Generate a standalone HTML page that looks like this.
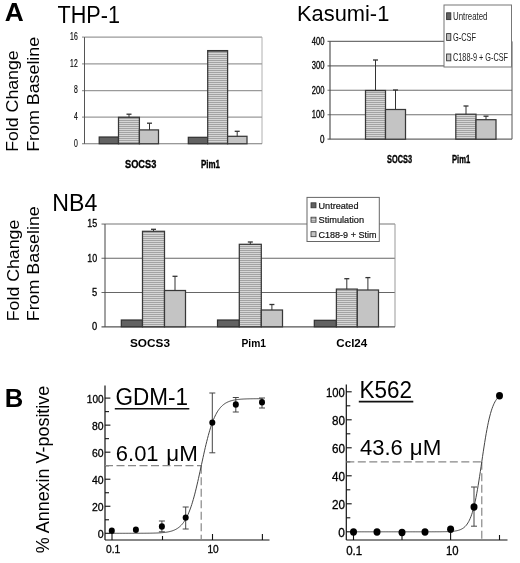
<!DOCTYPE html>
<html><head><meta charset="utf-8"><style>
html,body{margin:0;padding:0;background:#fff;}
svg{display:block;font-family:"Liberation Sans", sans-serif;filter:grayscale(1) blur(0.35px);}
</style></head><body>
<svg width="520" height="563" viewBox="0 0 520 563">
<defs>
<pattern id="stripe" patternUnits="userSpaceOnUse" width="4" height="2">
<rect width="4" height="2" fill="#d6d6d6"/>
<rect y="0" width="4" height="0.8" fill="#969696"/>
</pattern>
</defs>
<rect width="520" height="563" fill="#fff"/>
<text x="4.8" y="20.9" font-size="26.5" font-weight="bold" fill="#000" text-anchor="start" textLength="19" lengthAdjust="spacingAndGlyphs" >A</text>
<text x="57.5" y="23.1" font-size="23.5" font-weight="normal" fill="#000" text-anchor="start" textLength="62.5" lengthAdjust="spacingAndGlyphs" >THP-1</text>
<text x="18.4" y="151.8" font-size="17.3" font-weight="normal" fill="#000" text-anchor="start" textLength="101.5" lengthAdjust="spacingAndGlyphs" transform="rotate(-90 18.4 151.8)" >Fold Change</text>
<text x="18.6" y="321.2" font-size="17.3" font-weight="normal" fill="#000" text-anchor="start" textLength="101.5" lengthAdjust="spacingAndGlyphs" transform="rotate(-90 18.6 321.2)" >Fold Change</text>
<text x="38.9" y="151.8" font-size="17.3" font-weight="normal" fill="#000" text-anchor="start" textLength="115" lengthAdjust="spacingAndGlyphs" transform="rotate(-90 38.9 151.8)" >From Baseline</text>
<text x="38.9" y="321.2" font-size="17.3" font-weight="normal" fill="#000" text-anchor="start" textLength="115" lengthAdjust="spacingAndGlyphs" transform="rotate(-90 38.9 321.2)" >From Baseline</text>
<line x1="84.5" y1="37.1" x2="262" y2="37.1" stroke="#9a9a9a" stroke-width="1.2" />
<line x1="262" y1="37.1" x2="262" y2="143.75" stroke="#b0b0b0" stroke-width="1" />
<line x1="82" y1="63.94999999999999" x2="262" y2="63.94999999999999" stroke="#9a9a9a" stroke-width="1.2" />
<line x1="82" y1="90.55" x2="262" y2="90.55" stroke="#9a9a9a" stroke-width="1.2" />
<line x1="82" y1="117.15" x2="262" y2="117.15" stroke="#9a9a9a" stroke-width="1.2" />
<line x1="82" y1="37.1" x2="84.5" y2="37.1" stroke="#9a9a9a" stroke-width="1.2" />
<line x1="82" y1="143.75" x2="262" y2="143.75" stroke="#777" stroke-width="1.2" />
<line x1="84.5" y1="37.1" x2="84.5" y2="143.75" stroke="#555" stroke-width="1" />
<text x="77.7" y="40.14999999999999" font-size="10.3" font-weight="normal" fill="#000" text-anchor="end" textLength="7.6" lengthAdjust="spacingAndGlyphs" stroke="#000" stroke-width="0.15">16</text>
<text x="77.7" y="66.74999999999999" font-size="10.3" font-weight="normal" fill="#000" text-anchor="end" textLength="7.6" lengthAdjust="spacingAndGlyphs" stroke="#000" stroke-width="0.15">12</text>
<text x="77.7" y="93.35" font-size="10.3" font-weight="normal" fill="#000" text-anchor="end" textLength="3.8" lengthAdjust="spacingAndGlyphs" stroke="#000" stroke-width="0.15">8</text>
<text x="77.7" y="119.95" font-size="10.3" font-weight="normal" fill="#000" text-anchor="end" textLength="3.8" lengthAdjust="spacingAndGlyphs" stroke="#000" stroke-width="0.15">4</text>
<text x="77.7" y="146.55" font-size="10.3" font-weight="normal" fill="#000" text-anchor="end" textLength="3.8" lengthAdjust="spacingAndGlyphs" stroke="#000" stroke-width="0.15">0</text>
<rect x="99.2" y="137.0" width="19.299999999999997" height="6.75" fill="#626262" stroke="#303030" stroke-width="1.2"/>
<rect x="118.5" y="117.3" width="20.900000000000006" height="26.450000000000003" fill="url(#stripe)" stroke="#383838" stroke-width="1.25"/>
<line x1="129" y1="117.3" x2="129" y2="114.2" stroke="#333" stroke-width="1" />
<line x1="126.5" y1="114.2" x2="131.5" y2="114.2" stroke="#333" stroke-width="1.3" />
<rect x="139.4" y="129.9" width="19.099999999999994" height="13.849999999999994" fill="#c4c4c4" stroke="#383838" stroke-width="1.25"/>
<line x1="149.5" y1="129.9" x2="149.5" y2="123.2" stroke="#333" stroke-width="1" />
<line x1="147.0" y1="123.2" x2="152.0" y2="123.2" stroke="#333" stroke-width="1.3" />
<rect x="188.3" y="137.3" width="19.399999999999977" height="6.449999999999989" fill="#626262" stroke="#303030" stroke-width="1.2"/>
<rect x="207.7" y="50.6" width="19.900000000000006" height="93.15" fill="url(#stripe)" stroke="#383838" stroke-width="1.25"/>
<line x1="207.7" y1="50.8" x2="227.6" y2="50.8" stroke="#333" stroke-width="1.6" />
<rect x="227.6" y="136.3" width="19.400000000000006" height="7.449999999999989" fill="#c4c4c4" stroke="#383838" stroke-width="1.25"/>
<line x1="237.2" y1="136.3" x2="237.2" y2="131.3" stroke="#333" stroke-width="1" />
<line x1="234.7" y1="131.3" x2="239.7" y2="131.3" stroke="#333" stroke-width="1.3" />
<text x="125" y="167.5" font-size="10.5" font-weight="bold" fill="#000" text-anchor="start" textLength="31.3" lengthAdjust="spacingAndGlyphs" stroke="#000" stroke-width="0.35">SOCS3</text>
<text x="201" y="167.5" font-size="10.5" font-weight="bold" fill="#000" text-anchor="start" textLength="19" lengthAdjust="spacingAndGlyphs" stroke="#000" stroke-width="0.35">Pim1</text>
<text x="297" y="21.4" font-size="22" font-weight="normal" fill="#000" text-anchor="start" textLength="92.3" lengthAdjust="spacingAndGlyphs" >Kasumi-1</text>
<line x1="327.5" y1="41.39999999999999" x2="512" y2="41.39999999999999" stroke="#707070" stroke-width="1.1" />
<line x1="327.5" y1="65.85" x2="512" y2="65.85" stroke="#707070" stroke-width="1.1" />
<line x1="327.5" y1="90.29999999999998" x2="512" y2="90.29999999999998" stroke="#707070" stroke-width="1.1" />
<line x1="327.5" y1="114.74999999999999" x2="512" y2="114.74999999999999" stroke="#707070" stroke-width="1.1" />
<line x1="512" y1="41.39999999999999" x2="512" y2="139.2" stroke="#555" stroke-width="1" />
<line x1="327.5" y1="139.2" x2="512" y2="139.2" stroke="#666" stroke-width="1.2" />
<line x1="330" y1="41.39999999999999" x2="330" y2="139.2" stroke="#444" stroke-width="1.1" />
<text x="324.5" y="44.99999999999999" font-size="10.3" font-weight="normal" fill="#000" text-anchor="end" textLength="12.7" lengthAdjust="spacingAndGlyphs" stroke="#000" stroke-width="0.3">400</text>
<text x="324.5" y="69.44999999999999" font-size="10.3" font-weight="normal" fill="#000" text-anchor="end" textLength="12.7" lengthAdjust="spacingAndGlyphs" stroke="#000" stroke-width="0.3">300</text>
<text x="324.5" y="93.89999999999998" font-size="10.3" font-weight="normal" fill="#000" text-anchor="end" textLength="12.7" lengthAdjust="spacingAndGlyphs" stroke="#000" stroke-width="0.3">200</text>
<text x="324.5" y="118.34999999999998" font-size="10.3" font-weight="normal" fill="#000" text-anchor="end" textLength="12.7" lengthAdjust="spacingAndGlyphs" stroke="#000" stroke-width="0.3">100</text>
<text x="324.5" y="142.79999999999998" font-size="10.3" font-weight="normal" fill="#000" text-anchor="end" textLength="4.5" lengthAdjust="spacingAndGlyphs" stroke="#000" stroke-width="0.3">0</text>
<rect x="365.5" y="90.5" width="20.0" height="48.69999999999999" fill="url(#stripe)" stroke="#383838" stroke-width="1.25"/>
<line x1="375.5" y1="90.5" x2="375.5" y2="60" stroke="#333" stroke-width="1" />
<line x1="373.0" y1="60" x2="378.0" y2="60" stroke="#333" stroke-width="1.3" />
<rect x="385.5" y="109.5" width="20.0" height="29.69999999999999" fill="#c4c4c4" stroke="#383838" stroke-width="1.25"/>
<line x1="395.5" y1="109.5" x2="395.5" y2="90" stroke="#333" stroke-width="1" />
<line x1="393.0" y1="90" x2="398.0" y2="90" stroke="#333" stroke-width="1.3" />
<rect x="455.8" y="114.2" width="20.19999999999999" height="24.999999999999986" fill="url(#stripe)" stroke="#383838" stroke-width="1.25"/>
<line x1="466" y1="114.2" x2="466" y2="106" stroke="#333" stroke-width="1" />
<line x1="463.5" y1="106" x2="468.5" y2="106" stroke="#333" stroke-width="1.3" />
<rect x="476" y="119.7" width="20" height="19.499999999999986" fill="#c4c4c4" stroke="#383838" stroke-width="1.25"/>
<line x1="486" y1="119.7" x2="486" y2="116.2" stroke="#333" stroke-width="1" />
<line x1="483.5" y1="116.2" x2="488.5" y2="116.2" stroke="#333" stroke-width="1.3" />
<text x="387" y="162.5" font-size="10.5" font-weight="bold" fill="#000" text-anchor="start" textLength="25" lengthAdjust="spacingAndGlyphs" stroke="#000" stroke-width="0.35">SOCS3</text>
<text x="452" y="162.5" font-size="10.5" font-weight="bold" fill="#000" text-anchor="start" textLength="18.2" lengthAdjust="spacingAndGlyphs" stroke="#000" stroke-width="0.35">Pim1</text>
<rect x="444" y="5" width="67.5" height="62" fill="#fff" stroke="#777" stroke-width="1"/>
<rect x="446.6" y="12.799999999999999" width="4.2" height="6.8" fill="#626262" stroke="#333" stroke-width="0.9"/>
<text x="453" y="19.8" font-size="10.5" font-weight="normal" fill="#222" text-anchor="start" textLength="34.5" lengthAdjust="spacingAndGlyphs" >Untreated</text>
<rect x="446.6" y="33.6" width="4.2" height="6.8" fill="#bcbcbc" stroke="#333" stroke-width="0.9"/>
<text x="453" y="40.5" font-size="10.5" font-weight="normal" fill="#222" text-anchor="start" textLength="23" lengthAdjust="spacingAndGlyphs" >G-CSF</text>
<rect x="446.6" y="54.0" width="4.2" height="6.8" fill="#c4c4c4" stroke="#333" stroke-width="0.9"/>
<text x="453" y="60.5" font-size="10.5" font-weight="normal" fill="#222" text-anchor="start" textLength="55" lengthAdjust="spacingAndGlyphs" >C188-9 + G-CSF</text>
<text x="52.3" y="210.9" font-size="23.5" font-weight="normal" fill="#000" text-anchor="start" textLength="45" lengthAdjust="spacingAndGlyphs" >NB4</text>
<line x1="105" y1="224.05" x2="395" y2="224.05" stroke="#777" stroke-width="1.1" />
<line x1="101.5" y1="258.3" x2="395" y2="258.3" stroke="#666" stroke-width="1.1" />
<line x1="101.5" y1="292.55" x2="395" y2="292.55" stroke="#666" stroke-width="1.1" />
<line x1="101.5" y1="224.05" x2="105" y2="224.05" stroke="#777" stroke-width="1.1" />
<line x1="395" y1="224.05" x2="395" y2="326.8" stroke="#999" stroke-width="1" />
<line x1="101.5" y1="326.8" x2="395" y2="326.8" stroke="#555" stroke-width="1.2" />
<line x1="105" y1="224.05" x2="105" y2="326.8" stroke="#444" stroke-width="1" />
<text x="97.2" y="227.45000000000002" font-size="10.5" font-weight="normal" fill="#000" text-anchor="end" textLength="9.9" lengthAdjust="spacingAndGlyphs" stroke="#000" stroke-width="0.3">15</text>
<text x="97.2" y="261.7" font-size="10.5" font-weight="normal" fill="#000" text-anchor="end" textLength="9.9" lengthAdjust="spacingAndGlyphs" stroke="#000" stroke-width="0.3">10</text>
<text x="97.2" y="295.95" font-size="10.5" font-weight="normal" fill="#000" text-anchor="end" textLength="5.2" lengthAdjust="spacingAndGlyphs" stroke="#000" stroke-width="0.3">5</text>
<text x="97.2" y="330.2" font-size="10.5" font-weight="normal" fill="#000" text-anchor="end" textLength="5.2" lengthAdjust="spacingAndGlyphs" stroke="#000" stroke-width="0.3">0</text>
<rect x="121.3" y="320" width="21.200000000000003" height="6.800000000000011" fill="#626262" stroke="#303030" stroke-width="1.2"/>
<rect x="142.5" y="231.3" width="22.0" height="95.5" fill="url(#stripe)" stroke="#383838" stroke-width="1.25"/>
<line x1="153.5" y1="231.3" x2="153.5" y2="229.3" stroke="#333" stroke-width="1" />
<line x1="151.0" y1="229.3" x2="156.0" y2="229.3" stroke="#333" stroke-width="1.3" />
<rect x="164.5" y="290.5" width="21.0" height="36.30000000000001" fill="#c4c4c4" stroke="#383838" stroke-width="1.25"/>
<line x1="175" y1="290.5" x2="175" y2="276.3" stroke="#333" stroke-width="1" />
<line x1="172.5" y1="276.3" x2="177.5" y2="276.3" stroke="#333" stroke-width="1.3" />
<rect x="217.5" y="320" width="21.80000000000001" height="6.800000000000011" fill="#626262" stroke="#303030" stroke-width="1.2"/>
<rect x="239.3" y="244.3" width="22.0" height="82.5" fill="url(#stripe)" stroke="#383838" stroke-width="1.25"/>
<line x1="250.3" y1="244.3" x2="250.3" y2="242" stroke="#333" stroke-width="1" />
<line x1="247.8" y1="242" x2="252.8" y2="242" stroke="#333" stroke-width="1.3" />
<rect x="261.3" y="310" width="21.19999999999999" height="16.80000000000001" fill="#c4c4c4" stroke="#383838" stroke-width="1.25"/>
<line x1="271.9" y1="310" x2="271.9" y2="304.5" stroke="#333" stroke-width="1" />
<line x1="269.4" y1="304.5" x2="274.4" y2="304.5" stroke="#333" stroke-width="1.3" />
<rect x="314.3" y="320.3" width="22.099999999999966" height="6.5" fill="#626262" stroke="#303030" stroke-width="1.2"/>
<rect x="336.4" y="289.1" width="20.900000000000034" height="37.69999999999999" fill="url(#stripe)" stroke="#383838" stroke-width="1.25"/>
<line x1="346.8" y1="289.1" x2="346.8" y2="278.7" stroke="#333" stroke-width="1" />
<line x1="344.3" y1="278.7" x2="349.3" y2="278.7" stroke="#333" stroke-width="1.3" />
<rect x="357.3" y="290" width="21.19999999999999" height="36.80000000000001" fill="#c4c4c4" stroke="#383838" stroke-width="1.25"/>
<line x1="367.9" y1="290" x2="367.9" y2="277.6" stroke="#333" stroke-width="1" />
<line x1="365.4" y1="277.6" x2="370.4" y2="277.6" stroke="#333" stroke-width="1.3" />
<text x="130" y="347" font-size="11.5" font-weight="bold" fill="#000" text-anchor="start" textLength="40" lengthAdjust="spacingAndGlyphs" >SOCS3</text>
<text x="241.5" y="347" font-size="11.5" font-weight="bold" fill="#000" text-anchor="start" textLength="24.5" lengthAdjust="spacingAndGlyphs" >Pim1</text>
<text x="336.3" y="347" font-size="11.5" font-weight="bold" fill="#000" text-anchor="start" textLength="31" lengthAdjust="spacingAndGlyphs" >Ccl24</text>
<rect x="307" y="197.4" width="72.3" height="44.1" fill="#fff" stroke="#666" stroke-width="1"/>
<rect x="311" y="202.79999999999998" width="5" height="5" fill="#626262" stroke="#333" stroke-width="0.8"/>
<text x="318.5" y="208.7" font-size="9.6" font-weight="normal" fill="#111" text-anchor="start" textLength="40" lengthAdjust="spacingAndGlyphs" stroke="#111" stroke-width="0.2">Untreated</text>
<rect x="311" y="217.2" width="5" height="5" fill="url(#stripe)" stroke="#333" stroke-width="0.8"/>
<text x="318.5" y="223.1" font-size="9.6" font-weight="normal" fill="#111" text-anchor="start" textLength="45.5" lengthAdjust="spacingAndGlyphs" stroke="#111" stroke-width="0.2">Stimulation</text>
<rect x="311" y="231.7" width="5" height="5" fill="#c4c4c4" stroke="#333" stroke-width="0.8"/>
<text x="318.5" y="237.6" font-size="9.6" font-weight="normal" fill="#111" text-anchor="start" textLength="58" lengthAdjust="spacingAndGlyphs" stroke="#111" stroke-width="0.2">C188-9 + Stim</text>
<text x="4.8" y="406.8" font-size="26.5" font-weight="bold" fill="#000" text-anchor="start" textLength="18.5" lengthAdjust="spacingAndGlyphs" >B</text>
<text x="49.1" y="553.2" font-size="18" font-weight="normal" fill="#000" text-anchor="start" textLength="167.5" lengthAdjust="spacingAndGlyphs" transform="rotate(-90 49.1 553.2)" >% Annexin V-positive</text>
<line x1="105" y1="385.4" x2="105" y2="540" stroke="#111" stroke-width="1.2" />
<line x1="105" y1="540" x2="269.5" y2="540" stroke="#111" stroke-width="1.2" />
<line x1="105" y1="533.3" x2="110.4" y2="533.3" stroke="#111" stroke-width="1.1" />
<line x1="105" y1="519.78" x2="109" y2="519.78" stroke="#111" stroke-width="1.1" />
<line x1="105" y1="506.25999999999993" x2="110.4" y2="506.25999999999993" stroke="#111" stroke-width="1.1" />
<line x1="105" y1="492.73999999999995" x2="109" y2="492.73999999999995" stroke="#111" stroke-width="1.1" />
<line x1="105" y1="479.21999999999997" x2="110.4" y2="479.21999999999997" stroke="#111" stroke-width="1.1" />
<line x1="105" y1="465.69999999999993" x2="109" y2="465.69999999999993" stroke="#111" stroke-width="1.1" />
<line x1="105" y1="452.17999999999995" x2="110.4" y2="452.17999999999995" stroke="#111" stroke-width="1.1" />
<line x1="105" y1="438.65999999999997" x2="109" y2="438.65999999999997" stroke="#111" stroke-width="1.1" />
<line x1="105" y1="425.13999999999993" x2="110.4" y2="425.13999999999993" stroke="#111" stroke-width="1.1" />
<line x1="105" y1="411.61999999999995" x2="109" y2="411.61999999999995" stroke="#111" stroke-width="1.1" />
<line x1="105" y1="398.0999999999999" x2="110.4" y2="398.0999999999999" stroke="#111" stroke-width="1.1" />
<text x="103.6" y="402.4999999999999" font-size="11" font-weight="normal" fill="#000" text-anchor="end" textLength="16.8130081300813" lengthAdjust="spacingAndGlyphs" stroke="#000" stroke-width="0.3">100</text>
<text x="103.6" y="429.5399999999999" font-size="11" font-weight="normal" fill="#000" text-anchor="end" textLength="11.6260162601626" lengthAdjust="spacingAndGlyphs" stroke="#000" stroke-width="0.3">80</text>
<text x="103.6" y="456.5799999999999" font-size="11" font-weight="normal" fill="#000" text-anchor="end" textLength="11.6260162601626" lengthAdjust="spacingAndGlyphs" stroke="#000" stroke-width="0.3">60</text>
<text x="103.6" y="483.61999999999995" font-size="11" font-weight="normal" fill="#000" text-anchor="end" textLength="11.6260162601626" lengthAdjust="spacingAndGlyphs" stroke="#000" stroke-width="0.3">40</text>
<text x="103.6" y="510.6599999999999" font-size="11" font-weight="normal" fill="#000" text-anchor="end" textLength="11.6260162601626" lengthAdjust="spacingAndGlyphs" stroke="#000" stroke-width="0.3">20</text>
<text x="103.6" y="537.6999999999999" font-size="11" font-weight="normal" fill="#000" text-anchor="end" textLength="5.902439024390244" lengthAdjust="spacingAndGlyphs" stroke="#000" stroke-width="0.3">0</text>
<line x1="112" y1="540" x2="112" y2="533" stroke="#111" stroke-width="1.1" />
<line x1="162.5" y1="540" x2="162.5" y2="536" stroke="#111" stroke-width="1.1" />
<line x1="212.5" y1="540" x2="212.5" y2="534" stroke="#111" stroke-width="1.1" />
<line x1="262.4" y1="540" x2="262.4" y2="534" stroke="#111" stroke-width="1.1" />
<text x="106.04552845528455" y="552.8" font-size="11" font-weight="normal" fill="#000" text-anchor="start" textLength="14.308943089430894" lengthAdjust="spacingAndGlyphs" stroke="#000" stroke-width="0.3">0.1</text>
<text x="207.46585365853662" y="552.8" font-size="11" font-weight="normal" fill="#000" text-anchor="start" textLength="11.268292682926829" lengthAdjust="spacingAndGlyphs" stroke="#000" stroke-width="0.3">10</text>
<text x="115.6" y="405.4" font-size="23.5" font-weight="normal" fill="#000" text-anchor="start" textLength="72.5" lengthAdjust="spacingAndGlyphs" >GDM-1</text>
<line x1="114.8" y1="408.79999999999995" x2="189.29999999999998" y2="408.79999999999995" stroke="#111" stroke-width="1.6" />
<text x="115.8" y="460.8" font-size="22" font-weight="normal" fill="#000" text-anchor="start" textLength="42.8" lengthAdjust="spacingAndGlyphs" >6.01</text>
<text x="166.3" y="460.8" font-size="22" font-weight="normal" fill="#000" text-anchor="start" textLength="31.5" lengthAdjust="spacingAndGlyphs" >μM</text>
<line x1="105" y1="465.69999999999993" x2="201.2105547709374" y2="465.69999999999993" stroke="#888" stroke-width="1.2" stroke-dasharray="8,3.5"/>
<line x1="201.2105547709374" y1="465.69999999999993" x2="201.2105547709374" y2="540" stroke="#888" stroke-width="1.2" stroke-dasharray="8,3.5"/>
<polyline points="112.00,533.30 112.75,533.30 113.50,533.30 114.26,533.30 115.01,533.30 115.76,533.30 116.51,533.30 117.27,533.30 118.02,533.30 118.77,533.30 119.52,533.30 120.27,533.30 121.03,533.30 121.78,533.30 122.53,533.30 123.28,533.30 124.04,533.30 124.79,533.30 125.54,533.30 126.29,533.30 127.05,533.30 127.80,533.29 128.55,533.29 129.30,533.29 130.05,533.29 130.81,533.29 131.56,533.29 132.31,533.29 133.06,533.29 133.82,533.29 134.57,533.29 135.32,533.28 136.07,533.28 136.82,533.28 137.58,533.28 138.33,533.28 139.08,533.27 139.83,533.27 140.59,533.27 141.34,533.26 142.09,533.26 142.84,533.26 143.59,533.25 144.35,533.25 145.10,533.24 145.85,533.23 146.60,533.23 147.36,533.22 148.11,533.21 148.86,533.20 149.61,533.19 150.36,533.18 151.12,533.16 151.87,533.15 152.62,533.13 153.37,533.12 154.13,533.09 154.88,533.07 155.63,533.05 156.38,533.02 157.13,532.99 157.89,532.96 158.64,532.92 159.39,532.88 160.14,532.83 160.90,532.78 161.65,532.72 162.40,532.66 163.15,532.59 163.91,532.51 164.66,532.43 165.41,532.34 166.16,532.23 166.91,532.11 167.67,531.99 168.42,531.84 169.17,531.69 169.92,531.51 170.68,531.32 171.43,531.11 172.18,530.87 172.93,530.62 173.68,530.33 174.44,530.01 175.19,529.66 175.94,529.28 176.69,528.85 177.45,528.39 178.20,527.87 178.95,527.30 179.70,526.68 180.45,526.00 181.21,525.25 181.96,524.43 182.71,523.53 183.46,522.55 184.22,521.48 184.97,520.31 185.72,519.04 186.47,517.67 187.22,516.18 187.98,514.57 188.73,512.83 189.48,510.97 190.23,508.97 190.99,506.84 191.74,504.57 192.49,502.16 193.24,499.61 194.00,496.92 194.75,494.11 195.50,491.17 196.25,488.11 197.00,484.95 197.76,481.69 198.51,478.36 199.26,474.96 200.01,471.51 200.77,468.03 201.52,464.55 202.27,461.07 203.02,457.61 203.77,454.20 204.53,450.85 205.28,447.58 206.03,444.40 206.78,441.33 207.54,438.36 208.29,435.53 209.04,432.82 209.79,430.24 210.54,427.81 211.30,425.51 212.05,423.35 212.80,421.33 213.55,419.44 214.31,417.68 215.06,416.05 215.81,414.54 216.56,413.14 217.31,411.85 218.07,410.67 218.82,409.58 219.57,408.58 220.32,407.67 221.08,406.84 221.83,406.07 222.58,405.38 223.33,404.75 224.09,404.17 224.84,403.65 225.59,403.17 226.34,402.74 227.09,402.35 227.85,401.99 228.60,401.67 229.35,401.38 230.10,401.11 230.86,400.87 231.61,400.66 232.36,400.46 233.11,400.28 233.86,400.12 234.62,399.98 235.37,399.85 236.12,399.73 236.87,399.62 237.63,399.53 238.38,399.44 239.13,399.36 239.88,399.29 240.63,399.23 241.39,399.17 242.14,399.12 242.89,399.07 243.64,399.03 244.40,398.99 245.15,398.96 245.90,398.93 246.65,398.90 247.41,398.87 248.16,398.85 248.91,398.83 249.66,398.81 250.41,398.79 251.17,398.78 251.92,398.77 252.67,398.75 253.42,398.74 254.18,398.73 254.93,398.72 255.68,398.72 256.43,398.71 257.18,398.70 257.94,398.70 258.69,398.69 259.44,398.69 260.19,398.68 260.95,398.68 261.70,398.67 262.45,398.67" fill="none" stroke="#444" stroke-width="1"/>
<ellipse cx="111.8" cy="530.8" rx="3.0" ry="3.2" fill="#000"/>
<ellipse cx="135.9" cy="529.7" rx="3.0" ry="3.2" fill="#000"/>
<line x1="161.9" y1="521" x2="161.9" y2="531.8" stroke="#444" stroke-width="1" />
<line x1="158.9" y1="521" x2="164.9" y2="521" stroke="#444" stroke-width="1" />
<line x1="158.9" y1="531.8" x2="164.9" y2="531.8" stroke="#444" stroke-width="1" />
<ellipse cx="161.9" cy="526.5" rx="3.0" ry="3.2" fill="#000"/>
<line x1="185.7" y1="507" x2="185.7" y2="529" stroke="#444" stroke-width="1" />
<line x1="182.7" y1="507" x2="188.7" y2="507" stroke="#444" stroke-width="1" />
<line x1="182.7" y1="529" x2="188.7" y2="529" stroke="#444" stroke-width="1" />
<ellipse cx="185.7" cy="517.6" rx="3.0" ry="3.2" fill="#000"/>
<line x1="212.3" y1="393" x2="212.3" y2="452.8" stroke="#444" stroke-width="1" />
<line x1="209.3" y1="393" x2="215.3" y2="393" stroke="#444" stroke-width="1" />
<line x1="209.3" y1="452.8" x2="215.3" y2="452.8" stroke="#444" stroke-width="1" />
<ellipse cx="212.3" cy="422.6" rx="3.0" ry="3.2" fill="#000"/>
<line x1="235.8" y1="397.5" x2="235.8" y2="412" stroke="#444" stroke-width="1" />
<line x1="232.8" y1="397.5" x2="238.8" y2="397.5" stroke="#444" stroke-width="1" />
<line x1="232.8" y1="412" x2="238.8" y2="412" stroke="#444" stroke-width="1" />
<ellipse cx="235.8" cy="404.5" rx="3.0" ry="3.2" fill="#000"/>
<line x1="262" y1="398" x2="262" y2="408" stroke="#444" stroke-width="1" />
<line x1="259" y1="398" x2="265" y2="398" stroke="#444" stroke-width="1" />
<line x1="259" y1="408" x2="265" y2="408" stroke="#444" stroke-width="1" />
<ellipse cx="262" cy="402.2" rx="3.0" ry="3.2" fill="#000"/>
<line x1="346.3" y1="384.4" x2="346.3" y2="540" stroke="#111" stroke-width="1.2" />
<line x1="346.3" y1="540" x2="507.5" y2="540" stroke="#111" stroke-width="1.2" />
<line x1="346.3" y1="531.8" x2="351.7" y2="531.8" stroke="#111" stroke-width="1.1" />
<line x1="346.3" y1="517.8" x2="350.3" y2="517.8" stroke="#111" stroke-width="1.1" />
<line x1="346.3" y1="503.79999999999995" x2="351.7" y2="503.79999999999995" stroke="#111" stroke-width="1.1" />
<line x1="346.3" y1="489.79999999999995" x2="350.3" y2="489.79999999999995" stroke="#111" stroke-width="1.1" />
<line x1="346.3" y1="475.79999999999995" x2="351.7" y2="475.79999999999995" stroke="#111" stroke-width="1.1" />
<line x1="346.3" y1="461.79999999999995" x2="350.3" y2="461.79999999999995" stroke="#111" stroke-width="1.1" />
<line x1="346.3" y1="447.79999999999995" x2="351.7" y2="447.79999999999995" stroke="#111" stroke-width="1.1" />
<line x1="346.3" y1="433.79999999999995" x2="350.3" y2="433.79999999999995" stroke="#111" stroke-width="1.1" />
<line x1="346.3" y1="419.79999999999995" x2="351.7" y2="419.79999999999995" stroke="#111" stroke-width="1.1" />
<line x1="346.3" y1="405.79999999999995" x2="350.3" y2="405.79999999999995" stroke="#111" stroke-width="1.1" />
<line x1="346.3" y1="391.79999999999995" x2="351.7" y2="391.79999999999995" stroke="#111" stroke-width="1.1" />
<text x="344.90000000000003" y="397.29999999999995" font-size="12.3" font-weight="normal" fill="#000" text-anchor="end" textLength="18.8" lengthAdjust="spacingAndGlyphs" stroke="#000" stroke-width="0.3">100</text>
<text x="344.90000000000003" y="425.29999999999995" font-size="12.3" font-weight="normal" fill="#000" text-anchor="end" textLength="13.0" lengthAdjust="spacingAndGlyphs" stroke="#000" stroke-width="0.3">80</text>
<text x="344.90000000000003" y="453.29999999999995" font-size="12.3" font-weight="normal" fill="#000" text-anchor="end" textLength="13.0" lengthAdjust="spacingAndGlyphs" stroke="#000" stroke-width="0.3">60</text>
<text x="344.90000000000003" y="481.29999999999995" font-size="12.3" font-weight="normal" fill="#000" text-anchor="end" textLength="13.0" lengthAdjust="spacingAndGlyphs" stroke="#000" stroke-width="0.3">40</text>
<text x="344.90000000000003" y="509.29999999999995" font-size="12.3" font-weight="normal" fill="#000" text-anchor="end" textLength="13.0" lengthAdjust="spacingAndGlyphs" stroke="#000" stroke-width="0.3">20</text>
<text x="344.90000000000003" y="537.3" font-size="12.3" font-weight="normal" fill="#000" text-anchor="end" textLength="6.6" lengthAdjust="spacingAndGlyphs" stroke="#000" stroke-width="0.3">0</text>
<line x1="353.5" y1="540" x2="353.5" y2="533" stroke="#111" stroke-width="1.1" />
<line x1="402" y1="540" x2="402" y2="533" stroke="#111" stroke-width="1.1" />
<line x1="450.6" y1="540" x2="450.6" y2="533" stroke="#111" stroke-width="1.1" />
<line x1="499.5" y1="540" x2="499.5" y2="535" stroke="#111" stroke-width="1.1" />
<text x="346.2" y="555.2" font-size="12.3" font-weight="normal" fill="#000" text-anchor="start" textLength="16.0" lengthAdjust="spacingAndGlyphs" stroke="#000" stroke-width="0.3">0.1</text>
<text x="446.0" y="555.2" font-size="12.3" font-weight="normal" fill="#000" text-anchor="start" textLength="12.600000000000001" lengthAdjust="spacingAndGlyphs" stroke="#000" stroke-width="0.3">10</text>
<text x="359.6" y="398.2" font-size="23.5" font-weight="normal" fill="#000" text-anchor="start" textLength="52.5" lengthAdjust="spacingAndGlyphs" >K562</text>
<line x1="358.8" y1="401.59999999999997" x2="413.3" y2="401.59999999999997" stroke="#111" stroke-width="1.6" />
<text x="360" y="454.8" font-size="22" font-weight="normal" fill="#000" text-anchor="start" textLength="42.8" lengthAdjust="spacingAndGlyphs" >43.6</text>
<text x="409.8" y="454.8" font-size="22" font-weight="normal" fill="#000" text-anchor="start" textLength="31.5" lengthAdjust="spacingAndGlyphs" >μM</text>
<line x1="346.3" y1="461.79999999999995" x2="481.7790433784533" y2="461.79999999999995" stroke="#888" stroke-width="1.2" stroke-dasharray="8,3.5"/>
<line x1="481.7790433784533" y1="461.79999999999995" x2="481.7790433784533" y2="540" stroke="#888" stroke-width="1.2" stroke-dasharray="8,3.5"/>
<polyline points="353.50,531.80 354.23,531.80 354.96,531.80 355.69,531.80 356.42,531.80 357.14,531.80 357.87,531.80 358.60,531.80 359.33,531.80 360.06,531.80 360.79,531.80 361.52,531.80 362.25,531.80 362.98,531.80 363.71,531.80 364.44,531.80 365.16,531.80 365.89,531.80 366.62,531.80 367.35,531.80 368.08,531.80 368.81,531.80 369.54,531.80 370.27,531.80 371.00,531.80 371.73,531.80 372.45,531.80 373.18,531.80 373.91,531.80 374.64,531.80 375.37,531.80 376.10,531.80 376.83,531.80 377.56,531.80 378.29,531.80 379.01,531.80 379.74,531.80 380.47,531.80 381.20,531.80 381.93,531.80 382.66,531.80 383.39,531.80 384.12,531.80 384.85,531.80 385.58,531.80 386.31,531.80 387.03,531.80 387.76,531.80 388.49,531.80 389.22,531.80 389.95,531.80 390.68,531.80 391.41,531.80 392.14,531.80 392.87,531.80 393.60,531.80 394.32,531.80 395.05,531.80 395.78,531.80 396.51,531.80 397.24,531.80 397.97,531.80 398.70,531.80 399.43,531.80 400.16,531.80 400.88,531.80 401.61,531.80 402.34,531.80 403.07,531.80 403.80,531.80 404.53,531.80 405.26,531.80 405.99,531.80 406.72,531.80 407.45,531.80 408.18,531.80 408.90,531.80 409.63,531.80 410.36,531.80 411.09,531.80 411.82,531.80 412.55,531.80 413.28,531.80 414.01,531.80 414.74,531.80 415.46,531.80 416.19,531.80 416.92,531.80 417.65,531.80 418.38,531.80 419.11,531.80 419.84,531.80 420.57,531.80 421.30,531.80 422.03,531.80 422.75,531.80 423.48,531.80 424.21,531.80 424.94,531.80 425.67,531.80 426.40,531.80 427.13,531.80 427.86,531.80 428.59,531.80 429.32,531.79 430.05,531.79 430.77,531.79 431.50,531.79 432.23,531.79 432.96,531.79 433.69,531.79 434.42,531.79 435.15,531.78 435.88,531.78 436.61,531.78 437.34,531.78 438.06,531.77 438.79,531.77 439.52,531.76 440.25,531.76 440.98,531.75 441.71,531.74 442.44,531.73 443.17,531.72 443.90,531.71 444.62,531.70 445.35,531.68 446.08,531.66 446.81,531.64 447.54,531.62 448.27,531.59 449.00,531.56 449.73,531.52 450.46,531.48 451.19,531.43 451.91,531.38 452.64,531.31 453.37,531.24 454.10,531.16 454.83,531.06 455.56,530.95 456.29,530.82 457.02,530.67 457.75,530.50 458.48,530.30 459.20,530.08 459.93,529.82 460.66,529.52 461.39,529.18 462.12,528.79 462.85,528.35 463.58,527.83 464.31,527.25 465.04,526.59 465.77,525.83 466.50,524.96 467.22,523.98 467.95,522.87 468.68,521.60 469.41,520.18 470.14,518.58 470.87,516.79 471.60,514.78 472.33,512.55 473.06,510.07 473.79,507.35 474.51,504.35 475.24,501.10 475.97,497.57 476.70,493.77 477.43,489.73 478.16,485.45 478.89,480.95 479.62,476.29 480.35,471.48 481.07,466.58 481.80,461.63 482.53,456.68 483.26,451.79 483.99,446.99 484.72,442.33 485.45,437.85 486.18,433.59 486.91,429.56 487.64,425.78 488.37,422.27 489.09,419.03 489.82,416.06 490.55,413.35 491.28,410.89 492.01,408.67 492.74,406.68 493.47,404.90 494.20,403.31 494.93,401.90 495.65,400.65 496.38,399.55 497.11,398.58 497.84,397.72 498.57,396.97 499.30,396.31" fill="none" stroke="#444" stroke-width="1"/>
<ellipse cx="353.5" cy="532" rx="3.5" ry="3.7" fill="#000"/>
<ellipse cx="377" cy="532" rx="3.5" ry="3.7" fill="#000"/>
<ellipse cx="402" cy="532.5" rx="3.5" ry="3.7" fill="#000"/>
<ellipse cx="425" cy="532" rx="3.5" ry="3.7" fill="#000"/>
<ellipse cx="450.6" cy="529.2" rx="3.5" ry="3.7" fill="#000"/>
<line x1="474" y1="487" x2="474" y2="526.2" stroke="#444" stroke-width="1" />
<line x1="471" y1="487" x2="477" y2="487" stroke="#444" stroke-width="1" />
<line x1="471" y1="526.2" x2="477" y2="526.2" stroke="#444" stroke-width="1" />
<ellipse cx="474" cy="507" rx="3.5" ry="3.7" fill="#000"/>
<ellipse cx="499.5" cy="395.7" rx="3.5" ry="3.7" fill="#000"/>
</svg>
</body></html>
